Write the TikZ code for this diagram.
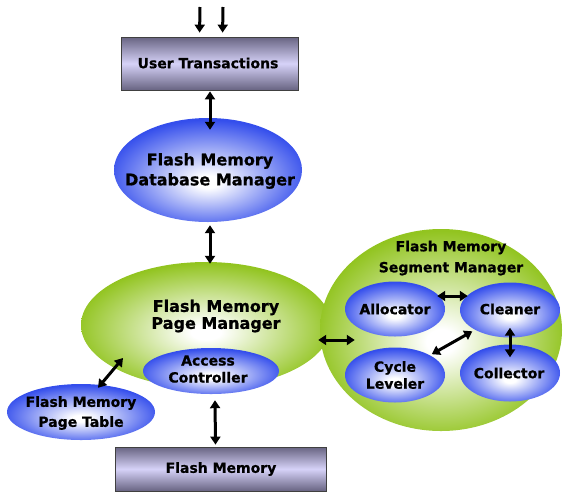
\documentclass[tikz,border=0pt]{standalone}
\usepackage{fontspec}
\setmainfont[BoldFeatures={FakeBold=0.8}]{DejaVu Sans}
\usetikzlibrary{arrows.meta,shapes.geometric}
\definecolor{ballblue}{RGB}{52,78,236}
\definecolor{ballgreen}{RGB}{146,196,32}
\definecolor{boxedge}{RGB}{104,100,130}
\definecolor{boxmid}{RGB}{214,210,248}
\pgfdeclareradialshading{blueball}{\pgfpoint{0bp}{-6bp}}{color(0bp)=(white); color(3bp)=(white); color(27bp)=(ballblue); color(50bp)=(ballblue)}
\pgfdeclareradialshading{greenball}{\pgfpoint{0bp}{-3bp}}{color(0bp)=(white); color(3bp)=(white); color(26bp)=(ballgreen); color(50bp)=(ballgreen)}
\tikzset{
  bigtxt/.style={font=\bfseries\fontsize{16}{20}\selectfont, align=center, text=black},
  smalltxt/.style={font=\bfseries\fontsize{14}{17}\selectfont, align=center, text=black},
  blueell/.style={ellipse, inner sep=0pt, shading=blueball},
  greenell/.style={ellipse, inner sep=0pt, shading=greenball},
  barbox/.style={rectangle, draw=black!75, line width=0.8pt, top color=boxedge, bottom color=boxedge, middle color=boxmid, inner sep=0pt},
  tip/.style={},
  arr/.style={line width=3pt, {Triangle[width=10pt,length=8pt]}-{Triangle[width=10pt,length=8pt]}},
  arrone/.style={line width=3pt, -{Triangle[width=10pt,length=8pt]}}
}
\begin{document}
\begin{tikzpicture}[x=1pt,y=-1pt]
\useasboundingbox (0,0) rectangle (564,491);
% boxes
\node[barbox, minimum width=177pt, minimum height=53pt] (ut) at (209.5,63.5) {};
\node[smalltxt] (utt) at (208,63) {User Transactions};
\node[barbox, minimum width=211pt, minimum height=44pt] (fm) at (220.5,469) {};
\node[smalltxt] (fmt) at (221,469) {Flash Memory};
% DB manager
\node[blueell, minimum width=188pt, minimum height=104pt] (db) at (208,170) {};
\node[bigtxt] (dbt) at (210,171) {Flash Memory\\Database Manager};
% page manager
\node[greenell, minimum width=250pt, minimum height=126pt] (pm) at (206,325) {};
\node[bigtxt, font=\bfseries\fontsize{16}{17}\selectfont] (pmt) at (216,316) {Flash Memory\\Page Manager};
% segment manager
\node[greenell, minimum width=242pt, minimum height=202pt] (sm) at (441,330) {};
\node[smalltxt, font=\bfseries\fontsize{14}{21}\selectfont] (smt) at (451,258) {Flash Memory\\Segment Manager};
% inner ellipses
\node[blueell, minimum width=136pt, minimum height=46pt] (ac) at (211,371) {};
\node[smalltxt] (act) at (208,369) {Access\\Controller};
\node[blueell, minimum width=148pt, minimum height=56pt] (pt) at (81,412) {};
\node[smalltxt, font=\bfseries\fontsize{14}{20}\selectfont] (ptt) at (81,413) {Flash Memory\\Page Table};
\node[blueell, minimum width=100pt, minimum height=55pt] (al) at (395,309) {};
\node[smalltxt] (alt) at (395,309) {Allocator};
\node[blueell, minimum width=100pt, minimum height=55pt] (cl) at (510,310) {};
\node[smalltxt] (clt) at (510,309) {Cleaner};
\node[blueell, minimum width=100pt, minimum height=55pt] (cy) at (395,375) {};
\node[smalltxt] (cyt) at (395,375) {Cycle\\Leveler};
\node[blueell, minimum width=100pt, minimum height=57pt] (co) at (510,373) {};
\node[smalltxt] (cot) at (509,373) {Collector};
% top inputs
\coordinate (in1) at (200,7);
\coordinate (in2) at (223,7);
\draw[arrone, shorten >=4pt] (in1) -- ([xshift=-10]ut.north);
\draw[arrone, shorten >=4pt] (in2) -- ([xshift=13]ut.north);
% connectors
\draw[arr, shorten <=1pt, shorten >=-12pt] ([xshift=0.5]ut.south) -- ([xshift=2]db.north);
\draw[arr, shorten <=3pt, shorten >=-2pt] ([xshift=2]db.south) -- ([xshift=4]pm.north);
\draw[arr] ([shift={(-13,15)}]pm.east) -- ([shift={(35,10)}]sm.west);
\draw[arr] ([shift={(17,4)}]pt.north) -- ([shift={(-83,33)}]pm.center);
\draw[arr] ([shift={(4,6)}]ac.south) -- ([shift={(-5,-2)}]fm.north);
\draw[arr] ([shift={(-8,-13)}]al.east) -- ([shift={(8,-14)}]cl.west);
\draw[arr, shorten <=3pt, shorten >=2pt] (cl) -- (cy);
\draw[arr, shorten <=-10pt, shorten >=-13pt] (cl.south) -- (co.north);
\end{tikzpicture}
\end{document}
